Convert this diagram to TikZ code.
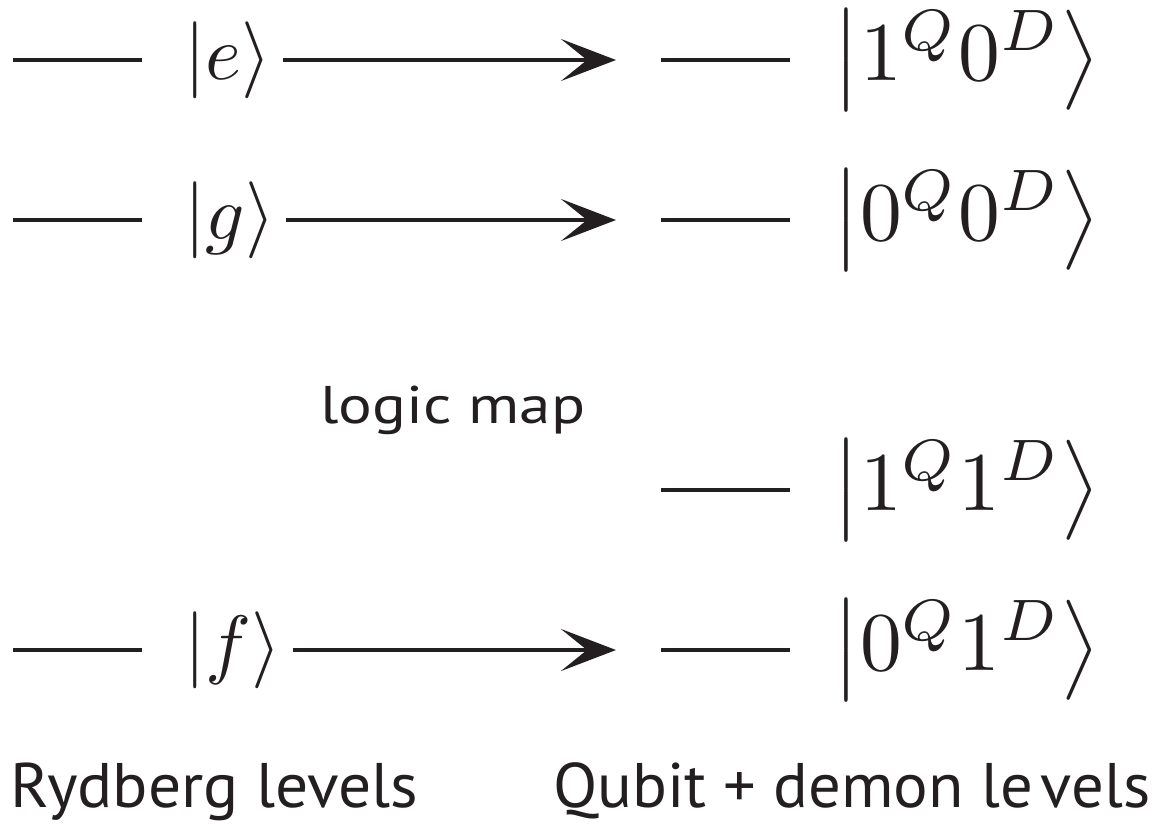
\documentclass[tikz,border=0pt]{standalone}
\usepackage{amsmath}
\usepackage{fontspec}
\setsansfont{PT Sans}
\usetikzlibrary{arrows.meta}
\definecolor{ink}{RGB}{35,31,32}
\begin{document}
\begin{tikzpicture}[x=1pt,y=-1pt,
  lvl/.style={draw=ink,line width=4.3pt},
  arr/.style={draw=ink,line width=4.3pt,-{Stealth[length=55pt,width=42pt,inset=26pt]},shorten <=11pt},
  ketL/.style={anchor=base west,inner sep=0pt,text=ink},
  ketR/.style={anchor=base west,inner sep=0pt,text=ink},
  lab/.style={anchor=base west,inner sep=0pt,text=ink,font=\fontsize{63}{70}\selectfont\sffamily},
  labs/.style={anchor=base west,inner sep=0pt,text=ink,font=\fontsize{53}{60}\selectfont\sffamily}]
\useasboundingbox (0,0) rectangle (1158,823);

% left levels
\draw[lvl] (13,60) -- (142,60);
\draw[lvl] (13,220) -- (142,220);
\draw[lvl] (13,650) -- (142,650);
\node[ketL] (ke) at (184,79.25) {\scalebox{7.7}{$|e\rangle$}};
\node[ketL] (kg) at (184,239.25) {\scalebox{7.7}{$|g\rangle$}};
\node[ketL] (kf) at (184,669.25) {\scalebox{7.7}{$|f\rangle$}};

% right levels
\draw[lvl] (661,60) -- (790,60);
\draw[lvl] (661,220) -- (790,220);
\draw[lvl] (661,490) -- (790,490);
\draw[lvl] (661,650) -- (790,650);
\node[ketR] (k10) at (832,80.9) {\scalebox{8.35}{$\bigl|1^Q0^D\bigr\rangle$}};
\node[ketR] (k00) at (832,240.9) {\scalebox{8.35}{$\bigl|0^Q0^D\bigr\rangle$}};
\node[ketR] (k11) at (832,510.9) {\scalebox{8.35}{$\bigl|1^Q1^D\bigr\rangle$}};
\node[ketR] (k01) at (832,670.9) {\scalebox{8.35}{$\bigl|0^Q1^D\bigr\rangle$}};

% arrows
\coordinate (a1) at (616,60);
\coordinate (a2) at (616,220);
\coordinate (a4) at (616,650);
\draw[arr] (ke.east |- a1) -- (a1);
\draw[arr] (kg.east |- a2) -- (a2);
\draw[arr] (kf.east |- a4) -- (a4);

% labels
\node[labs] (lm) at (320,423) {\resizebox{265pt}{\height}{logic map}};
\node[lab] (ryd) at (10,807) {\resizebox{408pt}{\height}{Rydberg levels}};
\node[lab] (qdl) at (553,807) {\resizebox{597pt}{\height}{Qubit + demon le\hspace{0.12em}vels}};
\end{tikzpicture}
\end{document}
